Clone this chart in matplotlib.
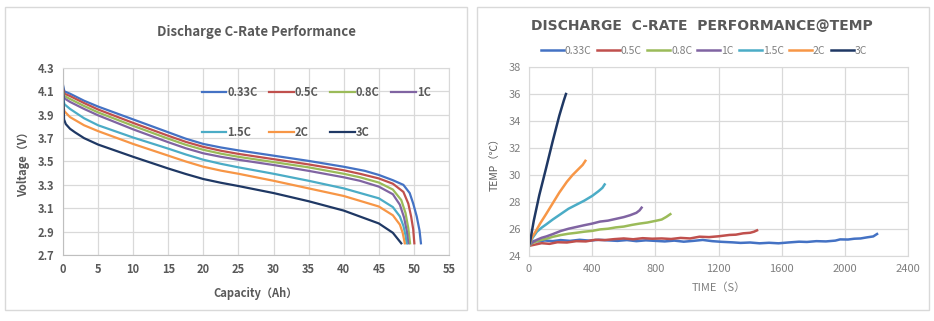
import matplotlib
matplotlib.use("Agg")
import matplotlib.pyplot as plt
from matplotlib.patches import Rectangle

plt.rcParams['font.family'] = ['Noto Sans CJK SC', 'DejaVu Sans']

rates = ['0.33C', '0.5C', '0.8C', '1C', '1.5C', '2C', '3C']
colors = ['#4472C4', '#C0504D', '#9BBB59', '#8064A2', '#4BACC6', '#F79646', '#1F3864']

# left chart: voltage vs capacity
cap = [
    [0, 0.2, 1, 3, 5, 10, 15, 17.5, 20, 22.5, 25, 30, 35, 40, 43, 45, 47, 48.5, 49.4, 49.9, 50.4, 50.8, 51.0],
    [0, 0.2, 1, 3, 5, 10, 15, 17.5, 20, 22.5, 25, 30, 35, 40, 42.3, 45, 47, 48.5, 49.2, 49.6, 49.9, 50.06],
    [0, 0.2, 1, 3, 5, 10, 15, 17.5, 20, 22.5, 25, 30, 35, 40, 42.3, 45, 47, 48.2, 48.8, 49.2, 49.45],
    [0, 0.2, 1, 3, 5, 10, 15, 17.5, 20, 22.5, 25, 30, 35, 40, 42.3, 45, 47, 48, 48.6, 49.0, 49.2],
    [0, 0.2, 1, 3, 5, 10, 15, 17.5, 20, 22.5, 25, 30, 35, 40, 45, 47, 48, 48.5, 48.8, 48.97],
    [0, 0.2, 1, 3, 5, 10, 15, 17.5, 20, 22.5, 25, 30, 35, 40, 45, 47, 48, 48.4, 48.7],
    [0, 0.15, 0.4, 1, 1.7, 3, 5, 10, 15, 17.5, 20, 22.5, 25, 30, 35, 40, 45, 47, 48.2],
]
volt = [
    [4.15, 4.10, 4.08, 4.02, 3.97, 3.86, 3.75, 3.695, 3.65, 3.62, 3.595, 3.55, 3.505, 3.455, 3.42, 3.385, 3.34, 3.30, 3.23, 3.14, 3.03, 2.91, 2.80],
    [4.12, 4.08, 4.06, 4.00, 3.945, 3.83, 3.72, 3.668, 3.625, 3.592, 3.565, 3.52, 3.475, 3.425, 3.395, 3.355, 3.31, 3.24, 3.14, 3.03, 2.92, 2.80],
    [4.10, 4.06, 4.035, 3.975, 3.92, 3.805, 3.695, 3.643, 3.60, 3.567, 3.54, 3.495, 3.45, 3.395, 3.365, 3.32, 3.26, 3.17, 3.06, 2.93, 2.80],
    [4.08, 4.04, 4.01, 3.95, 3.895, 3.775, 3.665, 3.613, 3.57, 3.54, 3.515, 3.47, 3.42, 3.365, 3.335, 3.285, 3.22, 3.13, 3.02, 2.90, 2.80],
    [4.05, 3.99, 3.95, 3.87, 3.81, 3.705, 3.61, 3.56, 3.515, 3.48, 3.45, 3.395, 3.335, 3.27, 3.185, 3.11, 3.03, 2.95, 2.87, 2.80],
    [4.00, 3.93, 3.88, 3.81, 3.76, 3.65, 3.55, 3.50, 3.455, 3.422, 3.395, 3.335, 3.27, 3.205, 3.115, 3.04, 2.96, 2.89, 2.80],
    [4.15, 3.86, 3.82, 3.78, 3.75, 3.70, 3.645, 3.54, 3.44, 3.393, 3.35, 3.318, 3.29, 3.23, 3.16, 3.08, 2.97, 2.89, 2.80],
]

# right chart: temperature vs time
time = [
    [0, 30, 60, 100, 150, 200, 260, 320, 380, 440, 500, 560, 620, 680, 740, 800, 860, 920, 980, 1040,
     1100, 1160, 1220, 1290, 1340, 1400, 1460, 1520, 1580, 1640, 1710, 1760, 1820, 1880, 1940, 1970,
     2020, 2060, 2100, 2140, 2180, 2204],
    [0, 40, 80, 130, 180, 240, 300, 360, 420, 480, 540, 600, 660, 720, 780, 840, 900, 960, 1020, 1080,
     1140, 1200, 1270, 1310, 1356, 1400, 1425, 1444],
    [0, 20, 50, 80, 110, 150, 200, 250, 300, 350, 400, 450, 500, 550, 600, 650, 700, 750, 800, 840, 870, 895],
    [0, 20, 50, 80, 110, 150, 200, 250, 300, 350, 400, 450, 500, 550, 600, 640, 680, 700, 713],
    [0, 20, 50, 80, 110, 150, 200, 250, 300, 350, 400, 440, 465, 479],
    [0, 20, 44, 70, 108, 150, 192, 240, 276, 310, 340, 357],
    [0, 6, 30, 65, 108, 150, 192, 220, 234],
]
temp = [
    [24.8, 25.12, 25.08, 25.15, 25.1, 25.18, 25.12, 25.2, 25.14, 25.2, 25.16, 25.12, 25.18, 25.1, 25.16,
     25.12, 25.08, 25.14, 25.06, 25.12, 25.19, 25.1, 25.05, 25.01, 24.97, 25.0, 24.94, 24.98, 24.94,
     25.0, 25.06, 25.04, 25.1, 25.08, 25.14, 25.23, 25.22, 25.28, 25.3, 25.38, 25.45, 25.63],
    [24.75, 24.85, 24.95, 24.9, 25.02, 25.0, 25.1, 25.08, 25.2, 25.18, 25.25, 25.3, 25.24, 25.32, 25.28,
     25.3, 25.26, 25.34, 25.3, 25.43, 25.4, 25.46, 25.56, 25.58, 25.68, 25.72, 25.8, 25.9],
    [24.75, 24.95, 25.1, 25.2, 25.28, 25.42, 25.55, 25.65, 25.72, 25.8, 25.86, 25.97, 26.02, 26.12, 26.18,
     26.3, 26.4, 26.48, 26.6, 26.7, 26.9, 27.1],
    [24.75, 25.0, 25.2, 25.35, 25.45, 25.62, 25.85, 26.02, 26.15, 26.28, 26.4, 26.55, 26.62, 26.75, 26.88,
     27.02, 27.2, 27.38, 27.58],
    [24.75, 25.3, 25.8, 26.1, 26.35, 26.7, 27.1, 27.5, 27.8, 28.1, 28.45, 28.8, 29.05, 29.3],
    [24.75, 25.4, 25.85, 26.4, 27.1, 27.9, 28.7, 29.5, 30.0, 30.4, 30.75, 31.05],
    [24.8, 25.0, 26.6, 28.5, 30.5, 32.5, 34.4, 35.5, 36.0],
]

W, H = 934, 321
fig = plt.figure(figsize=(W / 100, H / 100), dpi=100)

# panel frames
for x0, x1 in [(5, 467), (477, 929)]:
    fig.add_artist(Rectangle((x0 / W, 11 / H), (x1 - x0) / W, 303 / H, transform=fig.transFigure,
                             fill=False, edgecolor='#D9D9D9', linewidth=1.0))

grid_c = '#D9D9D9'
dark = '#595959'

# ---- left chart
ax1 = fig.add_axes([63 / W, (H - 255) / H, (449 - 63) / W, (255 - 68) / H])
for i in range(len(rates)):
    ax1.plot(cap[i], volt[i], color=colors[i], linewidth=1.6, label=rates[i])
ax1.set_xlim(0, 55)
ax1.set_ylim(2.7, 4.3)
ax1.set_xticks(range(0, 56, 5))
ax1.set_yticks([2.7, 2.9, 3.1, 3.3, 3.5, 3.7, 3.9, 4.1, 4.3])
ax1.set_yticklabels(['%.1f' % v for v in [2.7, 2.9, 3.1, 3.3, 3.5, 3.7, 3.9, 4.1, 4.3]])
ax1.grid(True, color=grid_c, linewidth=0.9)
ax1.set_axisbelow(True)
for s in ax1.spines.values():
    s.set_color(grid_c)
ax1.spines['left'].set_color('#BFBFBF')
ax1.spines['bottom'].set_color('#BFBFBF')
ax1.tick_params(length=0, labelsize=8, labelcolor=dark, pad=6)
for lab in ax1.get_xticklabels() + ax1.get_yticklabels():
    lab.set_fontweight('bold')
ax1.set_xlabel('Capacity（Ah）', fontsize=8, color=dark, fontweight='bold', labelpad=8)
ax1.set_ylabel('Voltage（V）', fontsize=8, color=dark, fontweight='bold', labelpad=6)
fig.text(256 / W, 1 - 32 / H, 'Discharge C-Rate Performance', ha='center', va='center',
         fontsize=9.5, color=dark, fontweight='bold')

h, l = ax1.get_legend_handles_labels()
order = [0, 4, 1, 5, 2, 6, 3]
leg1 = ax1.legend([h[k] for k in order], [l[k] for k in order], ncol=4, frameon=False,
                  loc='upper left', bbox_to_anchor=(0.334, 0.958), fontsize=8,
                  handlelength=2.2, handletextpad=0.1, columnspacing=1.05, labelspacing=2.4)
for t in leg1.get_texts():
    t.set_color(dark)
    t.set_fontweight('bold')

# ---- right chart
ax2 = fig.add_axes([529 / W, (H - 256) / H, (908 - 529) / W, (256 - 67) / H])
for i in range(len(rates)):
    ax2.plot(time[i], temp[i], color=colors[i], linewidth=1.8, label=rates[i])
ax2.set_xlim(0, 2400)
ax2.set_ylim(24, 38)
ax2.set_xticks(range(0, 2401, 400))
ax2.set_yticks(range(24, 39, 2))
ax2.grid(True, color=grid_c, linewidth=0.9)
ax2.set_axisbelow(True)
for s in ax2.spines.values():
    s.set_color(grid_c)
light = '#7F7F7F'
ax2.tick_params(length=0, labelsize=8, labelcolor=light, pad=6)
ax2.set_xlabel('TIME（S）', fontsize=8, color=light, labelpad=6)
ax2.set_ylabel('TEMP（℃）', fontsize=7.5, color=dark, labelpad=6)
fig.text(702 / W, 1 - 26 / H, 'DISCHARGE  C-RATE  PERFORMANCE@TEMP', ha='center', va='center',
         fontsize=10, color=dark, fontweight='bold', family='DejaVu Sans')
leg2 = fig.legend(*ax2.get_legend_handles_labels(), ncol=7, frameon=False, loc='center',
                  bbox_to_anchor=(704 / W, 1 - 51 / H), fontsize=7.5,
                  handlelength=2.2, handletextpad=0.1, columnspacing=0.5)
for t in leg2.get_texts():
    t.set_color(light)

fig.savefig('out.png', dpi=100, facecolor='white')
